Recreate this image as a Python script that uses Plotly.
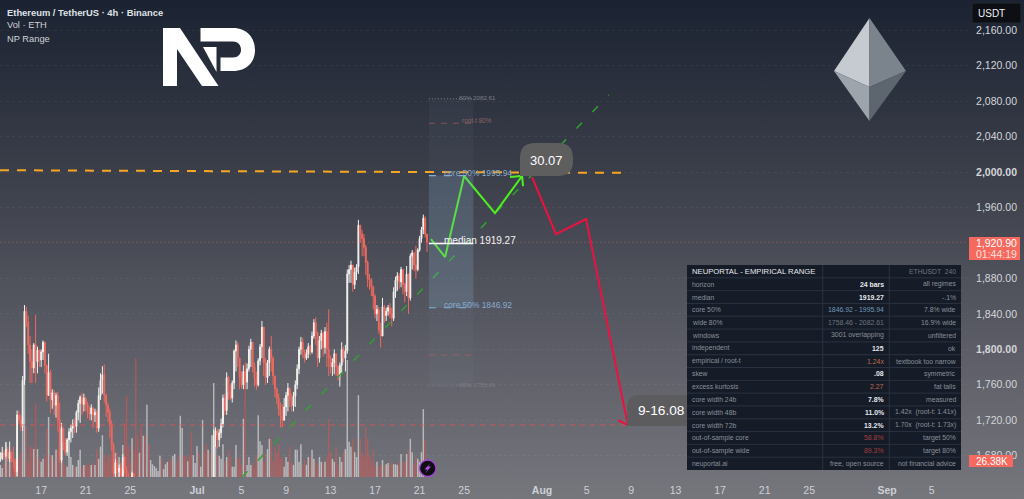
import base64
import pandas as pd
import plotly.graph_objects as go

# ETHUSDT 4h candles
start = "2026-06-13 08:00"
closes = [
    1677,1683,1680,1687,1677,1684,1677,1673,1662,1726,
    1720,1713,1765,1843,1831,1805,1786,1779,1805,1786,
    1799,1788,1797,1808,1782,1748,1774,1743,1751,1737,
    1748,1720,1675,1711,1695,1684,1698,1707,1711,1716,
    1713,1729,1739,1746,1738,1745,1738,1731,1727,1734,
    1726,1729,1711,1748,1765,1771,1748,1737,1729,1715,
    1692,1660,1672,1662,1666,1657,1678,1664,1655,1647,
    1645,1660,1641,1625,1610,1618,1600,1612,1598,1622,
    1612,1616,1620,1623,1625,1627,1633,1627,1630,1634,
    1638,1632,1627,1632,1638,1634,1628,1642,1650,1644,
    1638,1641,1636,1622,1630,1634,1642,1636,1639,1648,
    1642,1634,1640,1634,1648,1703,1708,1698,1706,1716,
    1745,1731,1768,1752,1745,1762,1798,1805,1790,1768,
    1760,1775,1763,1778,1800,1808,1780,1768,1760,1787,
    1803,1825,1785,1768,1785,1800,1790,1770,1755,1745,
    1732,1725,1720,1735,1748,1756,1742,1736,1747,1760,
    1778,1800,1808,1797,1790,1795,1803,1797,1815,1830,
    1818,1790,1810,1818,1802,1820,1800,1790,1780,1785,
    1795,1780,1770,1782,1800,1790,1798,1885,1890,1895,
    1873,1887,1893,1940,1930,1925,1915,1898,1880,1878,
    1870,1860,1840,1845,1822,1815,1848,1838,1843,1847,
    1840,1835,1865,1878,1883,1876,1890,1873,1865,1885,
    1858,1905,1909,1895,1890,1912,1925,1935,1948,1930,
    1920.90,
]
highs = [
    1684,1690,1686,1695,1690,1696,1686,1690,1677,1731,
    1731,1726,1770,1850,1848,1838,1815,1800,1807,1839,
    1803,1799,1800,1810,1800,1777,1795,1777,1755,1754,
    1751,1752,1740,1717,1712,1700,1700,1711,1715,1721,
    1722,1731,1743,1748,1751,1750,1746,1741,1736,1738,
    1733,1733,1732,1757,1773,1781,1783,1750,1740,1733,
    1720,1695,1676,1675,1670,1672,1682,1680,1668,1660,
    1652,1662,1658,1645,1628,1622,1620,1616,1614,1626,
    1625,1620,1624,1627,1628,1630,1638,1636,1634,1637,
    1642,1640,1635,1636,1641,1640,1636,1646,1653,1652,
    1646,1644,1642,1637,1634,1638,1646,1644,1642,1651,
    1650,1644,1644,1642,1652,1710,1712,1710,1710,1722,
    1749,1750,1774,1770,1760,1765,1800,1810,1808,1790,
    1775,1782,1785,1784,1804,1812,1806,1785,1775,1790,
    1806,1832,1812,1790,1788,1803,1815,1792,1770,1757,
    1750,1740,1738,1745,1752,1762,1757,1750,1752,1765,
    1783,1803,1814,1813,1800,1800,1807,1805,1820,1834,
    1836,1820,1815,1822,1820,1825,1830,1845,1793,1790,
    1800,1795,1782,1785,1808,1803,1805,1890,1895,1900,
    1893,1892,1896,1946,1940,1935,1930,1918,1900,1885,
    1880,1872,1862,1850,1848,1830,1858,1850,1847,1850,
    1852,1847,1870,1882,1887,1886,1893,1890,1875,1894,
    1884,1908,1912,1905,1917,1914,1928,1938,1952,1950,
    1928,
]
lows = [
    1673,1675,1675,1678,1673,1673,1672,1666,1656,1657,
    1716,1708,1708,1760,1825,1795,1762,1762,1773,1762,
    1773,1780,1780,1788,1773,1741,1757,1728,1733,1726,
    1723,1707,1672,1672,1686,1680,1680,1678,1695,1700,
    1705,1706,1720,1717,1726,1730,1730,1722,1720,1720,
    1711,1718,1706,1707,1743,1750,1740,1724,1718,1700,
    1686,1655,1656,1654,1654,1650,1652,1660,1648,1640,
    1638,1640,1632,1615,1604,1606,1592,1598,1590,1596,
    1606,1610,1614,1616,1620,1622,1624,1622,1624,1628,
    1632,1628,1622,1624,1628,1628,1622,1626,1638,1640,
    1632,1634,1630,1618,1618,1626,1632,1630,1632,1636,
    1636,1630,1630,1630,1630,1640,1690,1688,1690,1700,
    1712,1726,1726,1743,1743,1740,1755,1775,1780,1755,
    1756,1755,1755,1755,1775,1780,1774,1758,1754,1758,
    1782,1790,1770,1760,1762,1770,1775,1760,1746,1738,
    1725,1712,1712,1722,1725,1730,1735,1730,1730,1735,
    1755,1772,1794,1790,1785,1788,1790,1793,1795,1812,
    1805,1780,1785,1800,1792,1795,1780,1770,1773,1770,
    1772,1770,1765,1758,1772,1785,1775,1795,1875,1875,
    1865,1868,1878,1885,1920,1905,1905,1884,1870,1867,
    1860,1845,1835,1832,1818,1802,1820,1830,1832,1838,
    1835,1826,1832,1858,1866,1868,1870,1862,1853,1860,
    1840,1855,1890,1888,1880,1888,1910,1920,1930,1926,
    1910,
]
volumes_k = [
    20,15,23,58,23,33,20,15,8,17,
    33,41,99,160,83,25,50,50,46,120,
    46,30,25,30,33,79,99,36,36,30,
    45,46,63,33,25,20,17,33,33,20,
    17,17,28,45,17,20,20,20,21,20,
    23,20,46,30,50,69,38,25,36,33,
    73,48,40,40,33,20,53,89,134,51,
    23,64,45,196,69,40,83,68,69,119,
    54,28,21,18,15,10,35,30,13,21,
    25,26,30,35,38,26,35,101,81,35,
    36,26,35,74,36,23,51,40,17,94,
    43,54,45,40,69,155,51,36,35,30,
    54,25,33,45,33,17,17,53,30,33,
    21,96,165,20,33,20,25,17,36,102,
    59,53,25,40,46,63,63,25,50,41,
    54,30,33,17,33,25,50,25,20,45,
    45,25,54,20,28,20,33,33,45,30,
    25,20,33,25,23,25,33,96,41,30,
    25,50,20,33,25,41,46,193,58,50,
    63,41,33,135,63,41,33,83,63,36,
    28,45,20,25,17,20,28,20,21,23,
    20,25,21,21,20,25,38,25,25,38,
    45,63,41,21,33,30,25,41,112,61,
    26.38,
]

# Empirical range levels
median_level = 1919.27
core_low, core_high = 1846.92, 1995.94
wide_low, wide_high = 1758.46, 2082.61
root_t_low, root_t_high = 1793.6, 2055.0
range_start, range_end = "2026-07-21 20:00", "2026-07-25 20:00"
last_price = 1920.90

# Drawn levels and projected paths
orange_x = ["2026-06-13 07:12", "2026-08-08 17:00"]
orange_y = [2002, 1999]
target_x = ["2026-06-13 07:12", "2026-08-08 17:00"]
target_y = [1714.6, 1714.6]
trend_x = ["2026-07-05 01:00", "2026-08-07 00:00"]
trend_y = [1656, 2087]
up_x = ["2026-07-22 00:30", "2026-07-23 07:00", "2026-07-25 00:00", "2026-07-27 18:30",
        "2026-07-30 05:00", "2026-07-29 03:00", "2026-07-30 05:00", "2026-07-30 07:00"]
up_y = [1924.4, 1904, 1995.5, 1953.7, 1995.5, 1994.3, 1995.5, 1984]
down_x = ["2026-07-31 02:30", "2026-08-02 06:00", "2026-08-04 23:00", "2026-08-08 17:00",
          "2026-08-07 20:00"]
down_y = [1994.3, 1930, 1947, 1714.6, 1720]

# Axis labels
price_ticks = [2160, 2120, 2080, 2040, 2000, 1960, 1880, 1840, 1800, 1760, 1720, 1680]
bold_prices = [2000, 1800]
date_ticks = ["2026-06-17", "2026-06-21", "2026-06-25", "2026-07-01", "2026-07-05", "2026-07-09",
              "2026-07-13", "2026-07-17", "2026-07-21", "2026-07-25", "2026-08-01", "2026-08-05",
              "2026-08-09", "2026-08-13", "2026-08-17", "2026-08-21", "2026-08-25", "2026-09-01",
              "2026-09-05"]
date_labels = ["17", "21", "25", "<b>Jul</b>", "5", "9", "13", "17", "21", "25", "<b>Aug</b>", "5",
               "9", "13", "17", "21", "25", "<b>Sep</b>", "5"]

# Statistics panel
table_col1 = ["NEUPORTAL - EMPIRICAL RANGE", "horizon", "median", "core 50%", "wide 80%", "windows",
              "independent", "empirical / root-t", "skew", "excess kurtosis", "core width 24b",
              "core width 48b", "core width 72b", "out-of-sample core", "out-of-sample wide",
              "neuportal.ai"]
table_col2 = ["", "24 bars", "1919.27", "1846.92 - 1995.94", "1758.46 - 2082.61", "3001 overlapping",
              "125", "1.24x", ".08", "2.27", "7.8%", "11.0%", "13.2%", "58.8%", "89.3%",
              "free, open source"]
table_col3 = ["ETHUSDT  240", "all regimes", "-.1%", "7.8% wide", "16.9% wide", "unfiltered", "ok",
              "textbook too narrow", "symmetric", "fat tails", "measured", "1.42x  (root-t: 1.41x)",
              "1.70x  (root-t: 1.73x)", "target 50%", "target 80%", "not financial advice"]
WHITE, GREY, BLUE, DIM, ORANGE, RED = "#e6e8ec", "#8a8f99", "#7397b8", "#6d737d", "#bd6a4f", "#a83c40"
table_col2_colors = [WHITE, WHITE, WHITE, BLUE, DIM, GREY, WHITE, ORANGE, WHITE, ORANGE, WHITE,
                     WHITE, WHITE, RED, RED, GREY]

PLOT_W, PLOT_H = 968, 477
FONT = "Liberation Sans"


def px(x):
    return x / PLOT_W


def py(y):
    return 1 - y / PLOT_H


def pt(x, y):
    return f"{px(x):.5f},{py(y):.5f}"


def polygon(points, color):
    path = "M" + " L".join(pt(x, y) for x, y in points) + " Z"
    return dict(type="path", xref="paper", yref="paper", path=path, fillcolor=color,
                line=dict(width=0), layer="above")


def paper_rect(x0, y0, x1, y1, color, line_color=None, line_width=0):
    return dict(type="rect", xref="paper", yref="paper", x0=px(x0), x1=px(x1), y0=py(y0), y1=py(y1),
                fillcolor=color, line=dict(color=line_color or color, width=line_width), layer="above")


def paper_line(x0, y0, x1, y1, color, width=1):
    return dict(type="line", xref="paper", yref="paper", x0=px(x0), x1=px(x1), y0=py(y0), y1=py(y1),
                line=dict(color=color, width=width), layer="above")


def label(x, y, text, size=10, color="#d6d9df", anchor="left"):
    return dict(xref="paper", yref="paper", x=px(x), y=py(y), text=text, showarrow=False,
                xanchor=anchor, yanchor="middle", borderpad=0,
                font=dict(family=FONT, size=size, color=color))


def bubble(x0, y0, x1, y1, r, color):
    # speech-bubble corner: everything rounded except bottom-left
    path = (f"M{pt(x0, y1)} L{pt(x0, y0 + r)} Q{pt(x0, y0)} {pt(x0 + r, y0)} L{pt(x1 - r, y0)} "
            f"Q{pt(x1, y0)} {pt(x1, y0 + r)} L{pt(x1, y1 - r)} Q{pt(x1, y1)} {pt(x1 - r, y1)} Z")
    return dict(type="path", xref="paper", yref="paper", path=path, fillcolor=color,
                line=dict(width=0), layer="above")


def range_band(y0, y1, color):
    return dict(type="rect", xref="x", yref="y2", x0=range_start, x1=range_end, y0=y0, y1=y1,
                fillcolor=color, line=dict(width=0), layer="above")


def range_level(y, color, dash, width=1):
    return dict(type="line", xref="x", yref="y2", x0=range_start, x1=range_end, y0=y, y1=y,
                line=dict(color=color, width=width, dash=dash), layer="above")


dates = pd.date_range(start, periods=len(closes), freq="4h")
opens = [closes[0]] + closes[:-1]
highs = [max(h, o, c) for h, o, c in zip(highs, opens, closes)]
lows = [min(l, o, c) for l, o, c in zip(lows, opens, closes)]
vol_colors = ["rgba(222,222,222,0.68)" if c >= o else "rgba(226,84,78,0.52)"
              for o, c in zip(opens, closes)]

gradient_svg = (
    '<svg xmlns="http://www.w3.org/2000/svg" width="1024" height="499" preserveAspectRatio="none">'
    '<defs><linearGradient id="g" x1="0" y1="0" x2="0" y2="1">'
    '<stop offset="0" stop-color="#1b2231"/><stop offset="0.35" stop-color="#3b3f4a"/>'
    '<stop offset="0.7" stop-color="#5c5d66"/><stop offset="1" stop-color="#76767d"/>'
    '</linearGradient></defs><rect width="1024" height="499" fill="url(#g)"/></svg>'
)
gradient_uri = "data:image/svg+xml;base64," + base64.b64encode(gradient_svg.encode()).decode()

fig = go.Figure()

fig.add_trace(go.Bar(x=dates, y=volumes_k, yaxis="y", marker=dict(color=vol_colors, line=dict(width=0)),
                     width=4 * 3600 * 1000 * 0.78, hoverinfo="skip"))
fig.add_trace(go.Candlestick(
    x=dates, open=opens, high=highs, low=lows, close=closes, yaxis="y2", whiskerwidth=0,
    increasing=dict(line=dict(color="#f2f2ee", width=1), fillcolor="#ffffff"),
    decreasing=dict(line=dict(color="#f0695e", width=1), fillcolor="#f7695f"),
    hoverinfo="skip",
))

fig.add_trace(go.Scatter(x=[dates[0], "2026-09-08 06:30"], y=[last_price, last_price], yaxis="y2", mode="lines",
                         line=dict(color="rgba(238,100,90,0.65)", width=1, dash="1px,3px"), hoverinfo="skip"))
fig.add_trace(go.Scatter(x=target_x, y=target_y, yaxis="y2", mode="lines",
                         line=dict(color="rgba(240,80,80,0.75)", width=1, dash="5px,5px"), hoverinfo="skip"))
fig.add_trace(go.Scatter(x=orange_x, y=orange_y, yaxis="y2", mode="lines",
                         line=dict(color="#f5a623", width=2, dash="9px,8px"), hoverinfo="skip"))
fig.add_trace(go.Scatter(x=trend_x, y=trend_y, yaxis="y2", mode="lines",
                         line=dict(color="#32a032", width=1.5, dash="8px,15px"), hoverinfo="skip"))

shapes = [
    # empirical range block
    range_band(wide_low, wide_high, "rgba(160,180,200,0.05)"),
    range_band(core_low, core_high, "rgba(130,170,200,0.20)"),
    range_level(wide_high, "rgba(190,190,195,0.55)", "1px,2px"),
    range_level(wide_low, "rgba(190,190,195,0.30)", "1px,2px"),
    range_level(root_t_high, "rgba(190,95,95,0.6)", "6px,6px"),
    range_level(root_t_low, "rgba(190,95,95,0.6)", "6px,6px"),
    range_level(core_high, "#7fb0dc", "7px,8px", 1.2),
    range_level(core_low, "#7fb0dc", "7px,8px", 1.2),
    range_level(median_level, "#ffffff", "solid", 1.5),
    # projection end-point bubbles
    bubble(520, 143, 573, 176, 15, "#5e5e5f"),
    bubble(627, 395, 700, 426, 13, "#5c5c5f"),
    # statistics panel
    paper_rect(687, 265, 961, 470, "#151c28"),
]
row_h = (470 - 265) / len(table_col1)
for i in range(1, len(table_col1)):
    shapes.append(paper_line(687, 265 + i * row_h, 961, 265 + i * row_h, "#2a3241", 1))
shapes.append(paper_line(822.7, 265, 822.7, 470, "#2a3241", 1))
shapes.append(paper_line(889.3, 265, 889.3, 470, "#2a3241", 1))

# logo mark
shapes.append(polygon([(163, 28), (180, 28), (218.5, 86), (202, 86), (177, 49), (177, 86), (163, 86)], "#ffffff"))
shapes.append(polygon([(203, 47), (216.5, 47), (216.5, 72)], "#ffffff"))
shapes.append(dict(type="path", xref="paper", yref="paper", fillcolor="#ffffff", line=dict(width=0), layer="above",
                   path=(f"M{pt(200.5, 28)} L{pt(233, 28)} C{pt(247, 28)} {pt(255, 38)} {pt(255, 50)} "
                         f"C{pt(255, 62)} {pt(247, 71)} {pt(233, 71)} L{pt(220.5, 71)} L{pt(220.5, 57.5)} "
                         f"L{pt(233, 57.5)} C{pt(238, 57.5)} {pt(241, 54)} {pt(241, 50)} "
                         f"C{pt(241, 45)} {pt(238, 41.5)} {pt(233, 41.5)} L{pt(200.5, 41.5)} Z")))

# ether diamond
shapes.append(polygon([(869.5, 18), (834, 71), (869.5, 87)], "#c6cbd2"))
shapes.append(polygon([(869.5, 18), (906, 71), (869.5, 87)], "#7b838d"))
shapes.append(polygon([(834, 71), (869.5, 87), (869.5, 121)], "#9ea4ac"))
shapes.append(polygon([(906, 71), (869.5, 87), (869.5, 121)], "#5d656f"))

# price-axis badges
shapes.append(paper_rect(972, 3, 1021, 23, "#0d0f14", "#252a33", 1))
shapes.append(paper_rect(969, 237, 1020, 260, "#f7695f"))
shapes.append(paper_rect(969, 455, 1013, 467, "#f7695f"))

# alert icon on the time axis edge
shapes.append(dict(type="circle", xref="paper", yref="paper", x0=px(419.5), x1=px(436), y0=py(460), y1=py(476.5),
                   fillcolor="#0e0e14", line=dict(color="#a445d6", width=1.3), layer="above"))
shapes.append(polygon([(430.5, 463), (424.5, 469.5), (427.5, 469.5), (425, 473.5),
                       (431, 466.5), (428, 466.5)], "#b452e6"))

annotations = [
    label(6, 12.5, "<b>Ethereum / TetherUS · 4h · Binance</b>", 9.4, "#dfe2e7"),
    label(6, 25.5, "Vol · ETH", 9.3, "#cfd2d8"),
    label(6, 38.5, "NP Range", 9.3, "#cfd2d8"),
    label(546.5, 160, "30.07", 13, "#ffffff", "center"),
    label(661, 410.5, "9-16.08", 13.7, "#ffffff", "center"),
    label(442.5, 240, "median 1919.27", 10, "#f4f4f4"),
    label(443, 173, "core 50% 1995.94", 8.4, "#86abd0"),
    label(443, 305, "core 50% 1846.92", 8.4, "#86abd0"),
    label(458, 97, "80% 2082.61", 6.2, "#7d7f88"),
    label(458, 384.5, "80% 1758.46", 6.2, "#7c7d84"),
    label(461, 121, "root-t 80%", 6.4, "#8e6467"),
    label(991, 13, "USDT", 10, "#f0f2f5", "center"),
    label(996, 243, f"{last_price:,.2f}", 10.5, "#ffffff", "center"),
    label(996, 254, "01:44:19", 10.5, "#ffe1dd", "center"),
    label(992, 461, f"{volumes_k[-1]:.2f}K", 10, "#ffffff", "center"),
]
for i, (a, b, c) in enumerate(zip(table_col1, table_col2, table_col3)):
    y = 265 + (i + 0.5) * row_h
    annotations.append(label(691 if i == 0 else 690.5, y, a, 7.7 if i == 0 else 6.8,
                             WHITE if i == 0 else GREY))
    if b:
        bold = table_col2_colors[i] == WHITE
        annotations.append(label(884.5, y, f"<b>{b}</b>" if bold else b, 6.9, table_col2_colors[i], "right"))
    annotations.append(label(956.5, y, c, 6.8, "#70757f" if i == 0 else GREY, "right"))

fig.add_trace(go.Scatter(x=up_x, y=up_y, yaxis="y2", mode="lines",
                         line=dict(color="#4df01f", width=2, simplify=False), hoverinfo="skip"))
fig.add_trace(go.Scatter(x=down_x, y=down_y, yaxis="y2", mode="lines",
                         line=dict(color="#ee1140", width=2, simplify=False), hoverinfo="skip"))

fig.update_layout(
    width=1024, height=499, margin=dict(l=0, r=1024 - PLOT_W, t=0, b=499 - PLOT_H, pad=0),
    showlegend=False, hovermode=False, dragmode=False, barmode="overlay",
    paper_bgcolor="#3b3f4a", plot_bgcolor="rgba(0,0,0,0)",
    font=dict(family=FONT, size=11, color="#cdd0d6"),
    images=[dict(source=gradient_uri, xref="paper", yref="paper", x=0, y=1, xanchor="left", yanchor="top",
                 sizex=1024 / PLOT_W, sizey=499 / PLOT_H, sizing="stretch", layer="below")],
    xaxis=dict(type="date", range=["2026-06-13 07:12", "2026-09-08 06:30"], showgrid=False, zeroline=False,
               showline=False, rangeslider=dict(visible=False), tickmode="array", tickvals=date_ticks,
               ticktext=date_labels, ticks="outside", ticklen=3, tickcolor="rgba(0,0,0,0)",
               tickfont=dict(family=FONT, size=10.5, color="#cdd0d6")),
    yaxis=dict(range=[0, 787], visible=False, fixedrange=True),
    yaxis2=dict(overlaying="y", side="right", anchor="x", range=[1656, 2194], tickmode="array",
                tickvals=price_ticks + [1800],
                ticktext=[f"<b>{v:,.2f}</b>" if v in bold_prices else f"{v:,.2f}" for v in price_ticks + [1800]],
                showgrid=True, griddash="dot", gridcolor="rgba(255,255,255,0.05)", gridwidth=1, zeroline=False,
                showline=False, ticks="outside", ticklen=5, tickcolor="rgba(0,0,0,0)",
                tickfont=dict(family=FONT, size=10.5, color="#d4d6db")),
    shapes=shapes, annotations=annotations,
)

fig.write_html("out.html", config=dict(displayModeBar=False, staticPlot=True))
